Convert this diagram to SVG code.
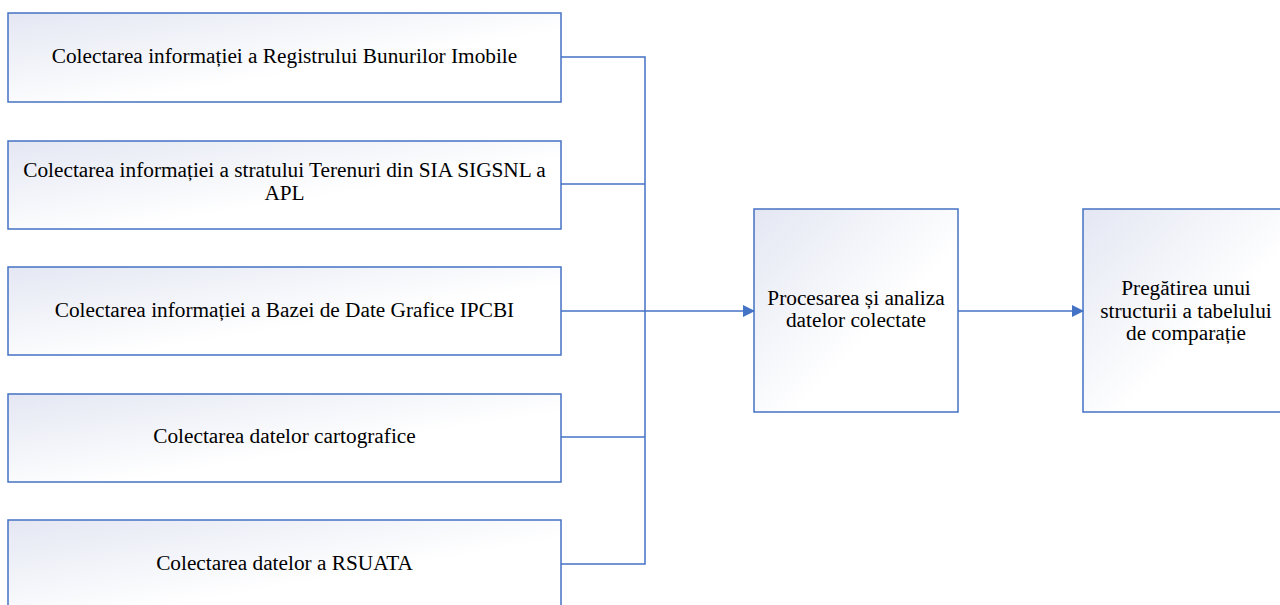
<svg xmlns="http://www.w3.org/2000/svg" width="1280" height="605" viewBox="0 0 1280 605">
<defs>
<linearGradient id="g" x1="0" y1="0" x2="1" y2="1">
<stop offset="0" stop-color="#e4e7f3"/>
<stop offset="0.6" stop-color="#ffffff"/>
<stop offset="1" stop-color="#ffffff"/>
</linearGradient>
<marker id="arr" markerWidth="12" markerHeight="12" refX="11" refY="6" orient="auto" markerUnits="userSpaceOnUse">
<path d="M0,0 L12,6 L0,12 Z" fill="#4472c4"/>
</marker>
<style>
.box{fill:url(#g);stroke:#4472c4;stroke-width:1.5}
.t{font-family:'Liberation Serif',serif;font-size:21.3px;fill:#000;text-anchor:middle}
.c{fill:none;stroke:#4472c4;stroke-width:1.5}
</style>
</defs>
<g id="n1"><rect class="box" x="8" y="13" width="553" height="89"/><text class="t" x="284.5" y="63">Colectarea informației a Registrului Bunurilor Imobile</text></g>
<g id="n2"><rect class="box" x="8" y="141" width="553" height="88"/><text class="t" x="284.5" y="177">Colectarea informației a stratului Terenuri din SIA SIGSNL a</text><text class="t" x="284.5" y="200">APL</text></g>
<g id="n3"><rect class="box" x="8" y="267" width="553" height="88"/><text class="t" x="284.5" y="317">Colectarea informației a Bazei de Date Grafice IPCBI</text></g>
<g id="n4"><rect class="box" x="8" y="394" width="553" height="88"/><text class="t" x="284.5" y="443">Colectarea datelor cartografice</text></g>
<g id="n5"><rect class="box" x="8" y="520" width="553" height="95"/><text class="t" x="284.5" y="570">Colectarea datelor a RSUATA</text></g>
<g id="n6"><rect class="box" x="754" y="209" width="204" height="203"/><text class="t" x="856" y="305">Procesarea și analiza</text><text class="t" x="856" y="327">datelor colectate</text></g>
<g id="n7"><rect class="box" x="1083" y="209" width="204" height="203"/><text class="t" x="1186" y="295">Pregătirea unui</text><text class="t" x="1186" y="318">structurii a tabelului</text><text class="t" x="1186" y="340">de comparație</text></g>
<g id="connectors">
<path class="c" d="M561,57 H645 V564 H561"/>
<path class="c" d="M561,184 H645"/>
<path class="c" d="M561,437 H645"/>
<path class="c" d="M561,311 H754" marker-end="url(#arr)"/>
<path class="c" d="M958,311 H1083" marker-end="url(#arr)"/>
</g>
</svg>
